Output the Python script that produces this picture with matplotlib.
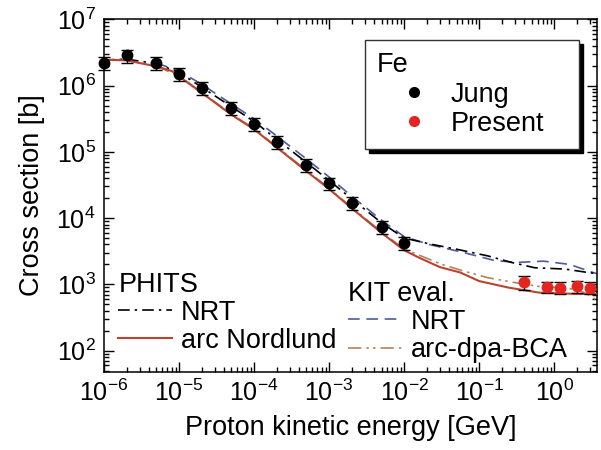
import matplotlib
matplotlib.use("Agg")
import matplotlib.pyplot as plt
import numpy as np
from matplotlib.lines import Line2D
from matplotlib.ticker import LogLocator, NullFormatter

plt.rcParams["font.family"] = ["Liberation Sans", "DejaVu Sans"]
plt.rcParams["mathtext.fontset"] = "custom"
plt.rcParams["mathtext.rm"] = "Liberation Sans"
plt.rcParams["mathtext.it"] = "Liberation Sans:italic"
plt.rcParams["mathtext.bf"] = "Liberation Sans:bold"
plt.rcParams["mathtext.default"] = "regular"
plt.rcParams["axes.unicode_minus"] = False

# measured points (GeV, barn)
jung_e = [1e-6, 2e-6, 5e-6, 1e-5, 2e-5, 5e-5, 1e-4, 2e-4, 5e-4, 1e-3, 2e-3, 5e-3, 1e-2]
jung_xs = [2.2e6, 2.85e6, 2.2e6, 1.5e6, 9.2e5, 4.6e5, 2.65e5, 1.43e5, 6.35e4, 3.36e4, 1.7e4, 7.4e3, 4.2e3]
jung_rel_err = 0.22

present_e = [0.4, 0.8, 1.2, 2.0, 3.0]
present_xs = [1.08e3, 9.1e2, 8.9e2, 9.3e2, 8.9e2]
present_rel_err = [0.25, 0.2, 0.2, 0.2, 0.2]

# PHITS
phits_nrt_e = [1e-6, 1.2e-6, 2e-6, 5e-6, 1e-5, 2e-5, 5e-5, 1e-4, 2e-4, 5e-4, 1e-3, 2e-3,
               5e-3, 1e-2, 2.2e-2, 5e-2, 0.13, 0.27, 0.55, 1.4, 2.8, 3.7]
phits_nrt_xs = [2.14e6, 2.45e6, 2.51e6, 2.14e6, 1.58e6, 9.5e5, 4.8e5, 2.88e5, 1.55e5, 6.9e4,
                3.7e4, 1.95e4, 8.5e3, 5.0e3, 4.07e3, 3.39e3, 2.69e3, 2.14e3, 1.78e3, 1.70e3,
                1.51e3, 1.45e3]

phits_arc_e = [1e-6, 1.2e-6, 2e-6, 5e-6, 8e-6, 1e-5, 2e-5, 5e-5, 1e-4, 2e-4, 5e-4, 1e-3,
               2e-3, 5e-3, 1e-2, 1.6e-2, 3e-2, 5.6e-2, 0.1, 0.25, 0.63, 1.8, 3.7]
phits_arc_xs = [2.14e6, 2.45e6, 2.4e6, 1.95e6, 1.66e6, 1.38e6, 7.8e5, 3.63e5, 2.19e5, 1.17e5,
                5.1e4, 2.75e4, 1.41e4, 6.0e3, 3.27e3, 2.51e3, 1.82e3, 1.51e3, 1.12e3, 8.9e2,
                7.5e2, 7.2e2, 7.1e2]

# KIT evaluation
kit_nrt_e = [5e-6, 1e-5, 2e-5, 5e-5, 1e-4, 2e-4, 5e-4, 1e-3, 2e-3, 5e-3, 1e-2, 2.2e-2,
             6.2e-2, 0.16, 0.32, 0.72, 1.6, 3.3, 3.7]
kit_nrt_xs = [2.19e6, 1.66e6, 1.05e6, 5.25e5, 3.16e5, 1.74e5, 7.8e4, 4.17e4, 2.14e4, 9.3e3,
              5.25e3, 3.98e3, 3.02e3, 2.29e3, 2.14e3, 2.24e3, 2.0e3, 1.51e3, 1.45e3]

kit_arc_e = [5e-6, 1e-5, 2e-5, 5e-5, 1e-4, 2e-4, 5e-4, 1e-3, 2e-3, 5e-3, 1e-2, 3.2e-2,
             6.3e-2, 0.13, 0.32, 0.63, 1.3, 2.0, 2.8, 3.7]
kit_arc_xs = [1.95e6, 1.41e6, 7.9e5, 3.7e5, 2.24e5, 1.2e5, 5.25e4, 2.82e4, 1.45e4, 6.2e3,
              3.4e3, 2.0e3, 1.58e3, 1.26e3, 1.05e3, 9.3e2, 8.9e2, 8.3e2, 7.1e2, 5.75e2]

C_RED_LINE = "#b9442f"
C_RED_PT = "#e3241f"
C_BLUE = "#4d5b9c"
C_TAN = "#b88158"
FS = 19.5

fig = plt.figure(figsize=(6.01, 4.5), dpi=100)
ax = fig.add_axes([0.173, 0.174, 0.820, 0.783])

ax.plot(kit_nrt_e, kit_nrt_xs, color=C_BLUE, lw=1.2, dashes=(7, 4), zorder=2)
ax.plot(phits_nrt_e, phits_nrt_xs, color="black", lw=1.2, dashes=(7, 3, 1.5, 3), zorder=2)
ax.plot(kit_arc_e, kit_arc_xs, color=C_TAN, lw=1.2, dashes=(8, 3, 1.5, 2.5, 1.5, 3), zorder=2)
ax.plot(phits_arc_e, phits_arc_xs, color=C_RED_LINE, lw=1.5, zorder=3)

jung = np.array(jung_xs)
ax.errorbar(jung_e, jung, yerr=jung * jung_rel_err, fmt="o", color="black", ms=7.5,
            elinewidth=1.0, capsize=4, capthick=1.0, zorder=5, clip_on=False)
present = np.array(present_xs)
ax.errorbar(present_e, present, yerr=present * np.array(present_rel_err), fmt="o",
            mfc=C_RED_PT, mec=C_RED_PT, ecolor="black", ms=7.5, elinewidth=1.0,
            capsize=4, capthick=1.0, zorder=5, clip_on=False)

ax.set_xscale("log")
ax.set_yscale("log")
ax.set_xlim(1e-6, 3.7)
ax.set_ylim(48, 1e7)
for axis in (ax.xaxis, ax.yaxis):
    axis.set_major_locator(LogLocator(base=10, numticks=20))
    axis.set_minor_locator(LogLocator(base=10, subs=np.arange(2, 10), numticks=100))
    axis.set_minor_formatter(NullFormatter())
ax.tick_params(which="both", direction="in", top=True, right=True, width=1.0,
               labelsize=18, pad=6)
ax.tick_params(which="major", length=7)
ax.tick_params(which="minor", length=3.5)
for s in ax.spines.values():
    s.set_linewidth(1.1)

ax.set_xlabel("Proton kinetic energy [GeV]", fontsize=FS, labelpad=6)
ax.set_ylabel("Cross section [b]", fontsize=FS, labelpad=8)

# legends
h_phits = [Line2D([], [], color="black", lw=1.2, dashes=(7, 3, 1.5, 3)),
           Line2D([], [], color=C_RED_LINE, lw=1.5)]
leg1 = ax.legend(h_phits, ["NRT", "arc Nordlund"], title="PHITS", alignment="left",
                 loc="upper left", bbox_to_anchor=(0.029, 0.284), frameon=False,
                 fontsize=FS, title_fontsize=FS, handlelength=2.0, handletextpad=0.3,
                 labelspacing=0.08, borderpad=0, borderaxespad=0)
ax.add_artist(leg1)

h_kit = [Line2D([], [], color=C_BLUE, lw=1.2, dashes=(7, 4)),
         Line2D([], [], color=C_TAN, lw=1.2, dashes=(8, 3, 1.5, 2.5, 1.5, 3))]
leg2 = ax.legend(h_kit, ["NRT", "arc-dpa-BCA"], title="KIT eval.", alignment="left",
                 loc="upper left", bbox_to_anchor=(0.496, 0.258), frameon=False,
                 fontsize=FS, title_fontsize=FS, handlelength=2.0, handletextpad=0.3,
                 labelspacing=0.08, borderpad=0, borderaxespad=0)
ax.add_artist(leg2)

h_pts = [Line2D([], [], ls="none", marker="o", color="black", ms=7),
         Line2D([], [], ls="none", marker="o", color=C_RED_PT, ms=7)]
leg3 = ax.legend(h_pts, ["Jung", "Present"], title="Fe", alignment="left",
                 loc="upper left", bbox_to_anchor=(0.529, 0.641, 0.434, 0.3), mode="expand",
                 frameon=True, fancybox=False, framealpha=1, edgecolor="#333333",
                 shadow={"color": "black", "alpha": 1, "ox": 3, "oy": -3},
                 fontsize=FS, title_fontsize=FS, handlelength=2.77, handletextpad=-0.05,
                 labelspacing=0.12, borderpad=0.45, borderaxespad=0)
leg3.get_frame().set_linewidth(1.0)

fig.savefig("out.png", dpi=100)
